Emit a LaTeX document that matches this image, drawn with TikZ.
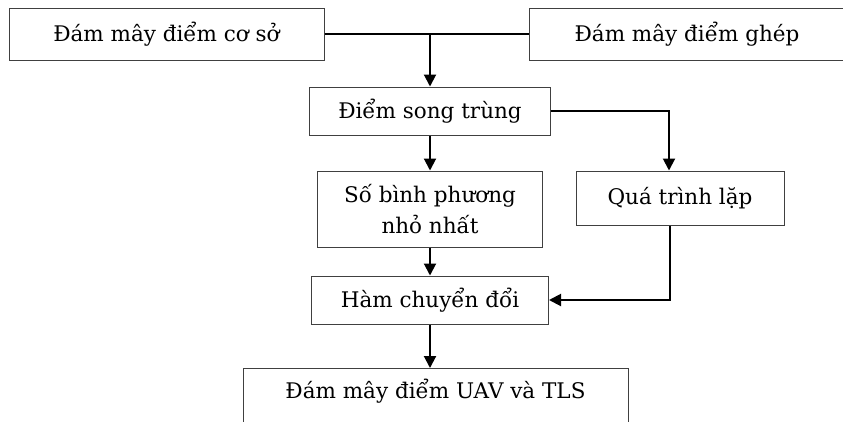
\documentclass[tikz,border=0pt]{standalone}
\usepackage{fontspec}
\setmainfont{DejaVu Serif}
\usetikzlibrary{positioning, arrows.meta}

\begin{document}
\begin{tikzpicture}[x=1pt, y=-1pt,
            flow/.style={-{Triangle[length=12pt, width=12pt]}, line width=2pt},
            link/.style={line width=2pt},
            block/.style={rectangle, draw=black!75, line width=1pt, inner sep=0pt, align=center, font=\fontsize{21.5}{31}\selectfont}
        ]
        \useasboundingbox (0,0) rectangle (843,421);

        \node[block, minimum width=315pt, minimum height=52pt] (coso) at (166.5,34) {Đám mây điểm cơ sở};
        \node[block, minimum width=316pt, minimum height=52pt] (ghep) at (687,34) {Đám mây điểm ghép};
        \node[block, minimum width=241pt, minimum height=48pt] (songtrung) at (430,111) {Điểm song trùng};
        \node[block, minimum width=225pt, minimum height=76pt] (binhphuong) at (430,209) {Số bình phương\\nhỏ nhất};
        \node[block, minimum width=208pt, minimum height=54pt] (lap) at (680,198) {Quá trình lặp};
        \node[block, minimum width=237pt, minimum height=48pt] (hamcd) at (430,300) {Hàm chuyển đổi};
        \node[block, anchor=north, minimum width=385pt, text height=30pt, text depth=70pt] (ketqua) at (435.5,368) {Đám mây điểm UAV và TLS};

        \coordinate (split) at (songtrung.north |- coso.east);

        \draw[link] (coso.east) -- (ghep.west);
        \draw[flow] (split) -- (songtrung.north);
        \draw[flow] (songtrung) -- (binhphuong);
        \draw[flow] (songtrung.east) -| ([xshift=-11pt]lap.north);
        \draw[flow] (binhphuong) -- (hamcd);
        \draw[flow] ([xshift=-10pt]lap.south) |- (hamcd.east);
        \draw[flow] (hamcd.south) -- (hamcd.south |- ketqua.north);

    \end{tikzpicture}
\end{document}
